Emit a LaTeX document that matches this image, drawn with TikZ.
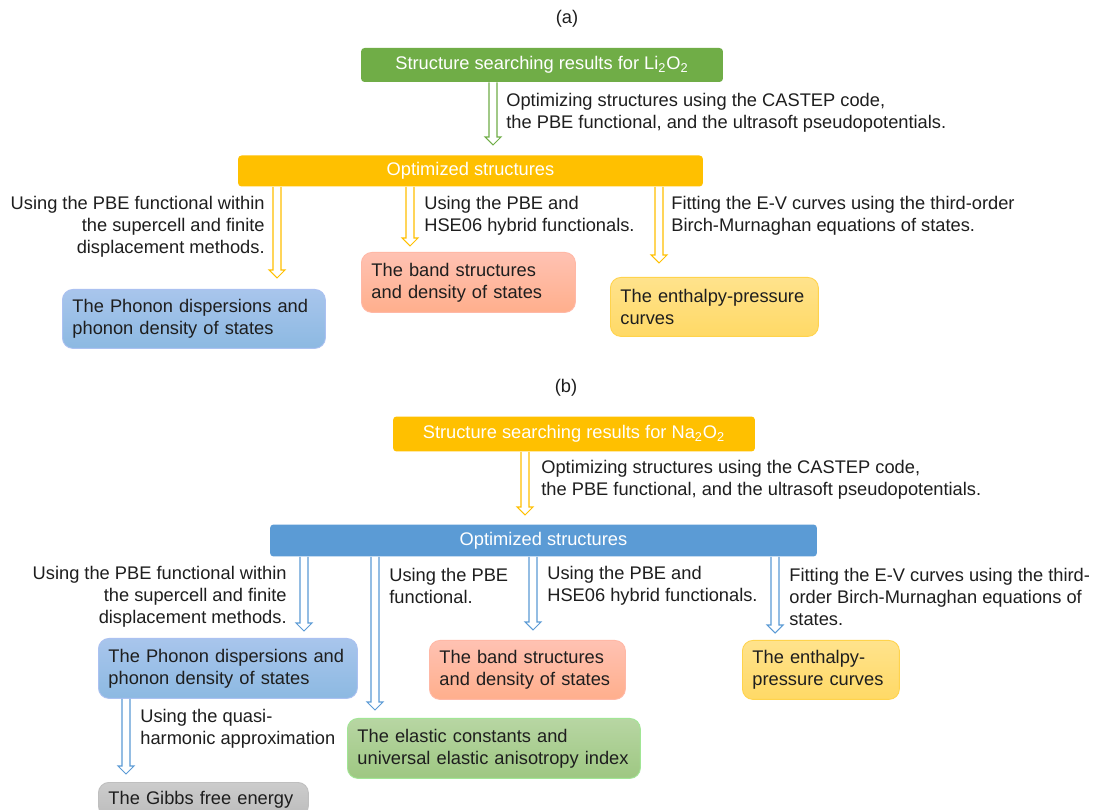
\documentclass[tikz,border=0pt]{standalone}
\usepackage{fontspec}
\setmainfont{Liberation Sans}
\usetikzlibrary{calc}
\definecolor{cgreen}{HTML}{70AD47}
\definecolor{corange}{HTML}{FFC000}
\definecolor{cblue}{HTML}{5B9BD5}
\definecolor{ctext}{HTML}{1E1E1E}
\begin{document}
\begin{tikzpicture}[x=0.02cm,y=-0.02cm,
  font=\fontsize{10.4}{12.5}\selectfont, text=ctext,
  head/.style={fill=#1,text=white,rounded corners=2pt,inner sep=0pt},
  res/.style={rounded corners=6pt,draw=#1,line width=0.5pt,anchor=north west,
    inner xsep=0.2cm,inner ysep=0pt,align=left},
  lbl/.style={inner sep=0pt},
  hollow/.style={draw=#1,line width=0.6pt,to path={
    ($(\tikztostart)+(-4,0)$) -- ($(\tikztotarget)+(-4,-8)$) -- ($(\tikztotarget)+(-8,-8)$)
    -- (\tikztotarget) -- ($(\tikztotarget)+(8,-8)$) -- ($(\tikztotarget)+(4,-8)$)
    -- ($(\tikztostart)+(4,0)$)}}]
\clip (0,0) rectangle (1096,810);
\fill[white] (0,0) rectangle (1096,810);
% (a)
\node[lbl] (capA) at (567,19) {(a)};
\node[head=cgreen,minimum width=7.24cm,minimum height=0.68cm] (titleA) at (542,65)
  {Structure searching results for Li\textsubscript{2}O\textsubscript{2}};
\node[head=corange,minimum width=9.3cm,minimum height=0.62cm] (optA) at (470.5,171) {Optimized structures};
\node[res=blue!25!cblue!45,top color=blue!10!cblue!50,bottom color=cblue!70,
  minimum width=5.26cm,minimum height=1.18cm,text width=4.86cm] (phonA) at (62,289)
  {The Phonon dispersions and\\phonon density of states};
\node[res=orange!40!red!35,top color=orange!40!red!30,bottom color=orange!60!red!45,
  minimum width=4.28cm,minimum height=1.2cm,text width=3.88cm] (bandA) at (361,252)
  {The band structures\\and density of states};
\node[res=corange!70,top color=corange!45,bottom color=corange!60,
  minimum width=4.16cm,minimum height=1.18cm,text width=3.76cm] (enthA) at (610,277)
  {The enthalpy-pressure\\curves};
\node[lbl,anchor=west,align=left] (lblA0) at (506,113)
  {Optimizing structures using the CASTEP code,\\the PBE functional, and the ultrasoft pseudopotentials.};
\node[lbl,anchor=east,align=right] (lblA1) at (265,227)
  {Using the PBE functional within\\the supercell and finite\\displacement methods.};
\node[lbl,anchor=west,align=left] (lblA2) at (424,216) {Using the PBE and\\HSE06 hybrid functionals.};
\node[lbl,anchor=west,align=left] (lblA3) at (671,216)
  {Fitting the E-V curves using the third-order\\Birch-Murnaghan equations of states.};
\coordinate (a0) at (493,145);
\coordinate (a1) at (277,278);
\coordinate (a2) at (410,246);
\coordinate (a3) at (659,263);
\draw[hollow=cgreen] (titleA.south -| a0) to (a0);
\foreach \t in {a1,a2,a3}
  \draw[hollow=corange] (optA.south -| \t) to (\t);
% (b)
\node[lbl] (capB) at (566,388) {(b)};
\node[head=corange,minimum width=7.24cm,minimum height=0.7cm] (titleB) at (574,434)
  {Structure searching results for Na\textsubscript{2}O\textsubscript{2}};
\node[head=cblue,minimum width=10.94cm,minimum height=0.64cm] (optB) at (543.5,540.5) {Optimized structures};
\node[res=blue!25!cblue!45,top color=blue!10!cblue!50,bottom color=cblue!70,
  minimum width=5.18cm,minimum height=1.2cm,text width=4.78cm] (phonB) at (98,638)
  {The Phonon dispersions and\\phonon density of states};
\node[res=orange!40!red!35,top color=orange!40!red!30,bottom color=orange!60!red!45,
  minimum width=3.92cm,minimum height=1.18cm,text width=3.52cm] (bandB) at (429,640)
  {The band structures\\and density of states};
\node[res=corange!70,top color=corange!45,bottom color=corange!60,
  minimum width=3.14cm,minimum height=1.18cm,text width=2.74cm] (enthB) at (742,640)
  {The enthalpy-\\pressure curves};
\node[res=green!40!cgreen!50,top color=cgreen!50,bottom color=cgreen!68,
  minimum width=5.86cm,minimum height=1.2cm,text width=5.46cm] (elasB) at (347,718)
  {The elastic constants and\\universal elastic anisotropy index};
\node[res=black!25,top color=black!20,bottom color=black!26,
  minimum width=4.2cm,minimum height=0.68cm,text width=3.8cm] (gibbB) at (98,782)
  {The Gibbs free energy};
\node[lbl,anchor=west,align=left] (lblB0) at (541,480)
  {Optimizing structures using the CASTEP code,\\the PBE functional, and the ultrasoft pseudopotentials.};
\node[lbl,anchor=east,align=right] (lblB1) at (287,597)
  {Using the PBE functional within\\the supercell and finite\\displacement methods.};
\node[lbl,anchor=west,align=left] (lblB2) at (389,586) {Using the PBE\\functional.};
\node[lbl,anchor=west,align=left] (lblB3) at (547,586) {Using the PBE and\\HSE06 hybrid functionals.};
\node[lbl,anchor=west,align=left] (lblB4) at (789,597)
  {Fitting the E-V curves using the third-\\order Birch-Murnaghan equations of\\states.};
\node[lbl,anchor=west,align=left] (lblB5) at (140,729) {Using the quasi-\\harmonic approximation};
\coordinate (b0) at (525,515);
\coordinate (b1) at (304,631);
\coordinate (b2) at (375,710);
\coordinate (b3) at (533,630);
\coordinate (b4) at (775,633);
\coordinate (b5) at (126,774);
\draw[hollow=corange] (titleB.south -| b0) to (b0);
\foreach \t in {b1,b2,b3,b4}
  \draw[hollow=cblue] (optB.south -| \t) to (\t);
\draw[hollow=cblue] (phonB.south -| b5) to (b5);
\end{tikzpicture}
\end{document}
